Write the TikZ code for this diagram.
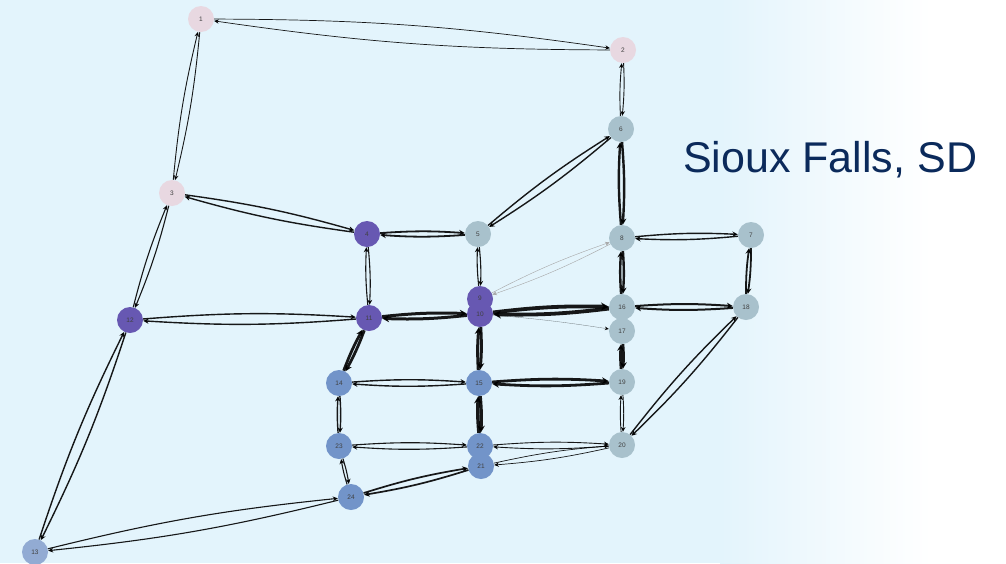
\documentclass[tikz,border=0pt]{standalone}
\usepackage{fontspec}
\setmainfont{Liberation Sans}
\usetikzlibrary{arrows.meta}
\definecolor{bgblue}{RGB}{227,244,252}
\definecolor{pinkc}{RGB}{232,216,225}
\definecolor{purc}{RGB}{103,88,178}
\definecolor{greyc}{RGB}{168,193,204}
\definecolor{bluec}{RGB}{114,148,201}
\definecolor{lbluec}{RGB}{146,171,211}
\definecolor{titlec}{RGB}{11,42,91}
\tikzset{
  nd/.style={circle, minimum size=26pt, inner sep=0pt, font=\fontsize{6.5}{7}\selectfont, text=black!75},
  pk/.style={nd, fill=pinkc},
  pu/.style={nd, fill=purc},
  gr/.style={nd, fill=greyc},
  bl/.style={nd, fill=bluec},
  lb/.style={nd, fill=lbluec},
  ed/.style={-{Stealth[length=4pt 1, width=3.5pt 1.2]}, draw=black, draw opacity=0.9, bend left=4},
}
\newcommand\edgepair[3]{\draw[ed,line width=#3pt] (#1) to (#2); \draw[ed,line width=#3pt] (#2) to (#1);}
\begin{document}
\begin{tikzpicture}[x=1pt,y=-1pt]
\useasboundingbox (0,0) rectangle (1006,563);
\fill[bgblue] (0,0) rectangle (721,563);
\shade[left color=bgblue, right color=white] (720,0) rectangle (931,563);
\fill[white] (930,0) rectangle (1006,563);
% nodes
\node[pk] (n1) at (201,19) {1};
\node[pk] (n2) at (623,50) {2};
\node[pk] (n3) at (172,193) {3};
\node[pu] (n4) at (367,234) {4};
\node[gr] (n5) at (478,234) {5};
\node[gr] (n6) at (621,129) {6};
\node[gr] (n7) at (751,235) {7};
\node[gr] (n8) at (622,238) {8};
\node[pu] (n9) at (480,299) {};
\node[pu] (n10) at (480,314) {10};
\node at (480,298.5) [font=\fontsize{6.5}{7}\selectfont, text=black!75] (l9) {9};
\node[pu] (n11) at (369,318) {11};
\node[pu] (n12) at (130,320) {12};
\node[lb] (n13) at (35,552) {13};
\node[bl] (n14) at (339,383) {14};
\node[bl] (n15) at (479,383) {15};
\node[gr] (n16) at (622,307) {16};
\node[gr] (n17) at (622,331) {17};
\node[gr] (n18) at (746,307) {18};
\node[gr] (n19) at (622,382) {19};
\node[gr] (n20) at (622,445) {20};
\node[bl] (n22) at (480,446) {22};
\node[bl] (n21) at (481,466) {21};
\node[bl] (n23) at (339,446) {23};
\node[bl] (n24) at (351,497) {24};
% edges
\edgepair{n1}{n2}{0.7}
\edgepair{n1}{n3}{0.9}
\edgepair{n2}{n6}{0.9}
\edgepair{n3}{n4}{1.4}
\edgepair{n3}{n12}{1.1}
\edgepair{n4}{n5}{1.8}
\edgepair{n4}{n11}{1.1}
\edgepair{n5}{n6}{1.4}
\edgepair{n5}{n9}{1.1}
\edgepair{n6}{n8}{2.4}
\edgepair{n7}{n8}{1.4}
\edgepair{n7}{n18}{1.8}
\draw[ed,line width=0.4pt,draw=gray!70,draw opacity=1] (n8) to (n9);
\draw[ed,line width=0.4pt,draw=gray!70,draw opacity=1] (n9) to (n8);
\edgepair{n8}{n16}{2.4}
\edgepair{n10}{n11}{3}
\edgepair{n10}{n15}{3}
\edgepair{n10}{n16}{3.8}
\draw[ed,line width=0.3pt,draw opacity=0.5,bend left=2] (n10) to (n17);
\edgepair{n11}{n12}{1.4}
\edgepair{n11}{n14}{2.8}
\edgepair{n12}{n13}{1.4}
\edgepair{n13}{n24}{1.1}
\edgepair{n14}{n15}{1.4}
\edgepair{n14}{n23}{1.4}
\edgepair{n15}{n19}{2.8}
\edgepair{n15}{n22}{3.4}
\edgepair{n16}{n18}{2}
\edgepair{n17}{n19}{2.8}
\edgepair{n18}{n20}{1.4}
\edgepair{n19}{n20}{0.9}
\edgepair{n20}{n21}{0.7}
\edgepair{n20}{n22}{0.9}
\edgepair{n21}{n24}{1.7}
\edgepair{n22}{n23}{1.1}
\edgepair{n23}{n24}{1.1}
% title
\node[anchor=base west, inner sep=0pt, text=titlec, font=\fontsize{43}{50}\selectfont] (title) at (683,172) {Sioux Falls, SD};
\end{tikzpicture}
\end{document}
